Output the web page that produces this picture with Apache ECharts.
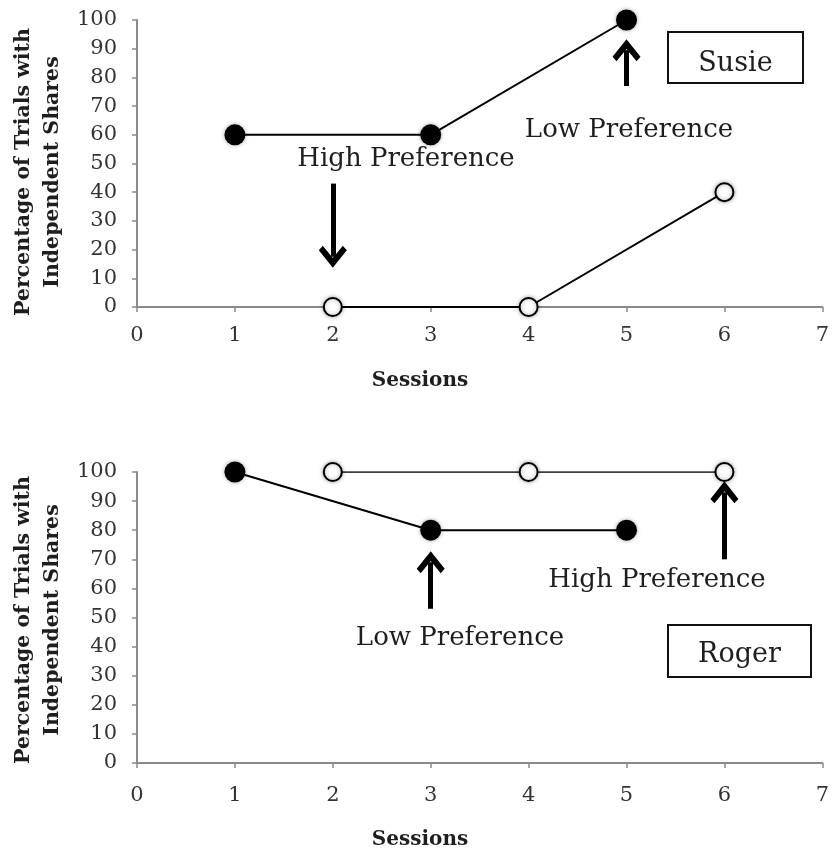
<!DOCTYPE html>
<html>
<head>
<meta charset="utf-8">
<script src="https://cdn.jsdelivr.net/npm/echarts@6/dist/echarts.min.js"></script>
<style>
  html, body { margin: 0; padding: 0; background: #fff; }
  #main { width: 832px; height: 851px; }
</style>
</head>
<body>
<div id="main"></div>
<script>
// 数据
const sessionsFilled = [1, 3, 5];
const sessionsOpen = [2, 4, 6];
const susieFilled = [60, 60, 100];
const susieOpen = [0, 0, 40];
const rogerFilled = [100, 80, 80];
const rogerOpen = [100, 100, 100];
// 箭头: [x, 起点, 终点]
const susieArrows = [[2, 43, 17.5], [5, 77, 89.5]];
const rogerArrows = [[3, 53, 69], [6, 70, 93]];

const FONT = 'DejaVu Serif';
const arrowPath = 'path://M14,0 L28,16 L24,20 L14,9 L4,20 L0,16 Z';

function pairs(xs, ys) {
  return xs.map((x, i) => [x, ys[i]]);
}

function arrowLines(list) {
  return {
    silent: true,
    symbol: ['none', arrowPath],
    symbolSize: [28, 22],
    label: { show: false },
    lineStyle: { color: '#000', width: 5, type: 'solid' },
    emphasis: { disabled: true },
    data: list.map(a => [{ coord: [a[0], a[1]] }, { coord: [a[0], a[2]] }])
  };
}

function xAxisOf(idx) {
  return {
    gridIndex: idx,
    type: 'value',
    min: 0,
    max: 7,
    interval: 1,
    axisLine: { show: true, lineStyle: { color: '#8a8a8a', width: 2 } },
    axisTick: { show: true, length: 5, lineStyle: { color: '#8a8a8a', width: 1.5 } },
    splitLine: { show: false },
    axisLabel: { fontFamily: FONT, fontSize: 21, color: '#333', margin: idx === 0 ? 18 : 22 }
  };
}

function yAxisOf(idx) {
  return {
    gridIndex: idx,
    type: 'value',
    min: 0,
    max: 100,
    interval: 10,
    axisLine: { show: true, lineStyle: { color: '#8a8a8a', width: 2 } },
    axisTick: { show: true, length: 5, lineStyle: { color: '#8a8a8a', width: 1.5 } },
    splitLine: { show: false },
    axisLabel: { fontFamily: FONT, fontSize: 21, color: '#333', margin: 20 }
  };
}

function filledSeries(idx, ys, arrows) {
  return {
    type: 'line',
    xAxisIndex: idx,
    yAxisIndex: idx,
    data: pairs(sessionsFilled, ys),
    symbol: 'circle',
    symbolSize: 21,
    itemStyle: { color: '#000', shadowBlur: 4, shadowColor: 'rgba(0,0,0,0.35)' },
    lineStyle: { color: '#000', width: 2 },
    markLine: arrowLines(arrows),
    z: 3
  };
}

function openSeries(idx, ys, width) {
  return {
    type: 'line',
    xAxisIndex: idx,
    yAxisIndex: idx,
    data: pairs(sessionsOpen, ys),
    symbol: 'circle',
    symbolSize: 18,
    itemStyle: { color: '#fff', borderColor: '#000', borderWidth: 2, shadowBlur: 4, shadowColor: 'rgba(0,0,0,0.35)' },
    lineStyle: { color: '#000', width: width },
    z: 4
  };
}

function yTitle(cx, cy) {
  return {
    type: 'text',
    x: cx,
    y: cy,
    rotation: Math.PI / 2,
    style: {
      text: 'Percentage of Trials with\nIndependent Shares',
      font: 'bold 20.5px "DejaVu Serif"',
      fill: '#1e1e1e',
      align: 'center',
      verticalAlign: 'middle',
      lineHeight: 29
    }
  };
}

function plainText(txt, cx, cy, font) {
  return {
    type: 'text',
    x: cx,
    y: cy,
    style: { text: txt, font: font, fill: '#1e1e1e', align: 'center', verticalAlign: 'middle' }
  };
}

function nameBox(txt, x, y, w, h, ty) {
  return {
    type: 'group',
    children: [
      { type: 'rect', shape: { x: x, y: y, width: w, height: h }, style: { fill: '#fff', stroke: '#111', lineWidth: 2 } },
      plainText(txt, x + w / 2, ty, '27px "DejaVu Serif"')
    ]
  };
}

const option = {
  backgroundColor: '#fff',
  animation: false,
  grid: [
    { left: 137, right: 7, top: 20, height: 287 },
    { left: 137, right: 7, top: 472, height: 291 }
  ],
  xAxis: [xAxisOf(0), xAxisOf(1)],
  yAxis: [yAxisOf(0), yAxisOf(1)],
  series: [
    filledSeries(0, susieFilled, susieArrows),
    openSeries(0, susieOpen, 2),
    filledSeries(1, rogerFilled, rogerArrows),
    openSeries(1, rogerOpen, 1.3)
  ],
  graphic: [
    yTitle(38, 172),
    yTitle(38, 620),
    plainText('Sessions', 420, 381, 'bold 20px "DejaVu Serif"'),
    plainText('Sessions', 420, 840, 'bold 20px "DejaVu Serif"'),
    plainText('High Preference', 406, 159, '26px "DejaVu Serif"'),
    plainText('Low Preference', 629, 130, '26px "DejaVu Serif"'),
    plainText('Low Preference', 460, 638, '26px "DejaVu Serif"'),
    plainText('High Preference', 657, 580, '26px "DejaVu Serif"'),
    nameBox('Susie', 668, 32, 135, 51, 64),
    nameBox('Roger', 668, 625, 143, 52, 655)
  ]
};

const chart = echarts.init(document.getElementById('main'));
chart.setOption(option);
</script>
</body>
</html>
